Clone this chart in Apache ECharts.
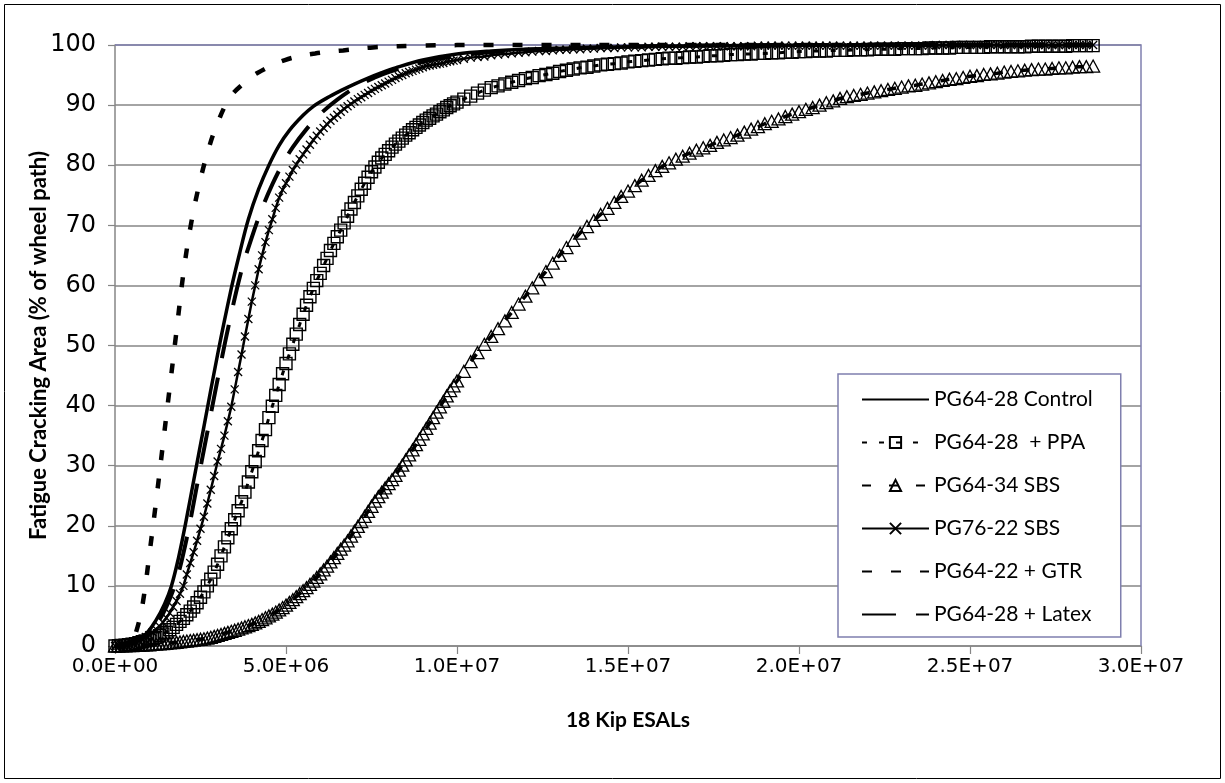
<!DOCTYPE html>
<html><head><meta charset="utf-8">
<script src="https://cdn.jsdelivr.net/npm/echarts@6/dist/echarts.min.js"></script>
<style>html,body{margin:0;padding:0;background:#fff}#chart{width:1225px;height:783px}</style>
</head><body><div id="chart"></div><script>
// ESALs in millions (shared by the three marker series)
const markerEsalsM = [
0.0,0.1,0.2,0.3,0.4,0.5,0.6,0.7,0.8,0.9,
1.0,1.1,1.2,1.3,1.4,1.5,1.6,1.7,1.8,1.9,
2.0,2.1,2.2,2.3,2.4,2.5,2.6,2.7,2.8,2.9,
3.0,3.1,3.2,3.3,3.4,3.5,3.6,3.7,3.8,3.9,
4.0,4.1,4.2,4.3,4.4,4.5,4.6,4.7,4.8,4.9,
5.0,5.1,5.2,5.3,5.4,5.5,5.6,5.7,5.8,5.9,
6.0,6.1,6.2,6.3,6.4,6.5,6.6,6.7,6.8,6.9,
7.0,7.1,7.2,7.3,7.4,7.5,7.6,7.7,7.8,7.9,
8.0,8.1,8.2,8.3,8.4,8.5,8.6,8.7,8.8,8.9,
9.0,9.1,9.2,9.3,9.4,9.5,9.6,9.7,9.8,9.9,
10.0,
10.2,10.4,10.6,10.8,11.0,11.2,11.4,11.6,11.8,12.0,
12.2,12.4,12.6,12.8,13.0,13.2,13.4,13.6,13.8,14.0,
14.2,14.4,14.6,14.8,15.0,15.2,15.4,15.6,15.8,16.0,
16.2,16.4,16.6,16.8,17.0,17.2,17.4,17.6,17.8,18.0,
18.2,18.4,18.6,18.8,19.0,19.2,19.4,19.6,19.8,20.0,
20.2,20.4,20.6,20.8,21.0,21.2,21.4,21.6,21.8,22.0,
22.2,22.4,22.6,22.8,23.0,23.2,23.4,23.6,23.8,24.0,
24.2,24.4,24.6,24.8,25.0,25.2,25.4,25.6,25.8,26.0,
26.2,26.4,26.6,26.8,27.0,27.2,27.4,27.6,27.8,28.0,
28.2,28.4,28.6];

const ppaValues = [
0,0.05,0.1,0.15,0.2,0.3,0.4,0.55,0.7,0.85,
1.0,1.2,1.4,1.7,2.0,2.3,2.7,3.1,3.6,4.1,
4.6,5.2,5.8,6.5,7.2,8.1,9.0,10.0,11.1,12.3,
13.6,15.0,16.5,18.0,19.5,21.0,22.5,24.0,25.6,27.3,
29.0,30.7,32.5,34.2,36.0,38.0,39.9,41.7,43.5,45.3,
47.0,48.6,50.2,51.9,53.5,55.2,56.7,58.1,59.5,60.8,
62.0,63.3,64.5,65.8,67.0,68.1,69.2,70.4,71.5,72.7,
73.8,74.9,76.0,77.0,78.0,78.9,79.7,80.5,81.2,81.8,
82.4,83.0,83.5,84.0,84.5,85.0,85.4,85.9,86.3,86.7,
87.1,87.5,87.8,88.2,88.5,88.9,89.2,89.6,89.9,90.2,
90.5,
91.0,91.5,92.0,92.5,92.9,93.2,93.5,93.8,94.1,94.4,
94.6,94.9,95.1,95.3,95.6,95.8,96.0,96.2,96.3,96.5,
96.7,96.8,96.9,97.0,97.2,97.3,97.4,97.5,97.6,97.7,
97.8,97.8,97.9,98.0,98.0,98.1,98.2,98.2,98.3,98.4,
98.4,98.5,98.5,98.6,98.6,98.7,98.7,98.8,98.8,98.9,
98.9,99.0,99.0,99.0,99.1,99.1,99.1,99.2,99.2,99.2,
99.3,99.3,99.3,99.3,99.4,99.4,99.4,99.4,99.5,99.5,
99.5,99.5,99.6,99.6,99.6,99.6,99.6,99.7,99.7,99.7,
99.7,99.7,99.7,99.8,99.8,99.8,99.8,99.8,99.8,99.9,
99.9,99.9,99.9];

const sbs6434Values = [
0,0,0,0.02,0.05,0.07,0.1,0.12,0.15,0.17,
0.2,0.25,0.3,0.35,0.4,0.45,0.5,0.55,0.6,0.67,
0.75,0.82,0.9,0.97,1.05,1.12,1.2,1.32,1.45,1.6,
1.75,1.92,2.1,2.27,2.45,2.62,2.8,3.0,3.2,3.4,
3.6,3.85,4.1,4.4,4.7,5.0,5.3,5.65,6.0,6.4,
6.8,7.25,7.7,8.2,8.7,9.2,9.7,10.25,10.8,11.4,
12.0,12.65,13.3,14.0,14.7,15.4,16.1,16.8,17.5,18.3,
19.1,19.9,20.7,21.55,22.4,23.25,24.1,24.85,25.6,26.3,
27.0,27.7,28.4,29.25,30.1,30.95,31.8,32.65,33.5,34.4,
35.3,36.2,37.1,38.0,38.9,39.8,40.7,41.6,42.5,43.3,
44.1,
45.7,47.3,48.8,50.2,51.5,52.8,54.1,55.5,56.9,58.2,
59.6,61.0,62.3,63.7,65.0,66.3,67.5,68.7,69.8,70.8,
71.8,72.8,73.8,74.8,75.7,76.6,77.5,78.3,79.1,79.8,
80.4,81.0,81.5,82.0,82.5,82.9,83.3,83.8,84.2,84.6,
85.0,85.5,86.0,86.4,86.9,87.3,87.7,88.1,88.5,88.9,
89.3,89.6,90.0,90.4,90.7,91.1,91.4,91.6,91.8,92.0,
92.2,92.4,92.6,92.8,93.0,93.2,93.3,93.5,93.7,93.9,
94.1,94.3,94.4,94.6,94.8,94.9,95.1,95.2,95.3,95.5,
95.6,95.7,95.8,95.9,96.0,96.0,96.1,96.2,96.2,96.3,
96.4,96.4,96.5];

const sbs7622Values = [
0,0.05,0.1,0.2,0.3,0.5,0.7,0.95,1.2,1.5,
1.8,2.3,2.8,3.3,3.9,4.7,5.5,6.5,7.5,8.7,
10.0,11.9,13.8,15.6,17.5,19.5,21.5,23.7,26.0,28.3,
30.7,32.8,35.0,37.4,39.8,42.7,45.6,48.5,51.5,54.4,
57.3,60.0,62.7,65.0,67.2,69.2,71.0,72.9,74.6,75.9,
77.0,78.1,79.2,80.1,81.0,81.8,82.6,83.4,84.2,84.9,
85.6,86.2,86.8,87.4,87.9,88.4,88.9,89.4,89.8,90.2,
90.6,91.0,91.3,91.7,92.0,92.4,92.7,93.0,93.3,93.6,
93.9,94.2,94.5,94.8,95.0,95.3,95.5,95.7,95.9,96.1,
96.3,96.5,96.6,96.7,96.8,96.9,97.0,97.2,97.3,97.4,
97.5,
97.7,97.9,98.0,98.1,98.3,98.4,98.5,98.6,98.7,98.8,
98.9,99.0,99.0,99.1,99.2,99.2,99.3,99.3,99.4,99.4,
99.5,99.5,99.5,99.6,99.6,99.6,99.6,99.7,99.7,99.7,
99.7,99.7,99.7,99.8,99.8,99.8,99.8,99.8,99.8,99.8,
99.8,99.8,99.8,99.9,99.9,99.9,99.9,99.9,99.9,99.9,
99.9,99.9,99.9,99.9,99.9,99.9,99.9,99.9,99.9,99.9,
99.9,99.9,99.9,99.9,99.9,99.9,99.9,99.9,99.9,100,
100,100,100,100,100,100,100,100,100,100,
100,100,100,100,100,100,100,100,100,100,
100,100,100];

const controlEsalsM = [0,0.5,0.9,1.2,1.45,1.65,1.85,2.05,2.3,2.6,3.0,3.4,3.65,3.9,4.2,4.5,4.8,5.1,5.5,5.8,6.2,6.6,7.0,7.4,7.8,8.2,9.0,10,11,12,14,16,18,20,28.6];
const controlValues = [0,0.8,2.0,4.3,7.0,10.0,14.5,20.0,27.5,36.5,48.5,59.5,65.5,71.0,76.0,80.0,83.3,85.8,88.3,89.8,91.2,92.4,93.5,94.5,95.4,96.2,97.5,98.5,99.0,99.3,99.6,99.8,99.9,100,100];

const gtrEsalsM = [0,0.3,0.5,0.7,0.85,1.0,1.2,1.4,1.6,1.8,2.0,2.2,2.45,2.7,2.95,3.35,3.8,4.15,4.97,5.85,6.67,7.54,9,11,28.6];
const gtrValues = [0,0,0.8,4.0,8.5,15,24,33.5,43,52.5,62,69.5,76.5,82,86.3,91.2,93.8,95.3,97.5,98.6,99.1,99.6,99.9,100,100];

const latexEsalsM = [0,0.5,0.9,1.2,1.5,1.8,2.1,2.39,2.68,2.97,3.33,3.7,4.0,4.3,4.6,4.9,5.2,5.6,6.0,6.5,7.1,7.6,8.0,9.0,10,11,12,14,17,20,28.6];
const latexValues = [0,0.6,1.6,3.5,6.5,11,18,26.5,35,43.5,53.5,62.5,68,72.8,76.8,80.2,83,86,88.5,90.9,93.2,94.6,95.5,97.2,98.2,98.8,99.2,99.6,99.9,100,100];

const seriesNames = ['PG64-28 Control','PG64-28  + PPA','PG64-34 SBS','PG76-22 SBS','PG64-22 + GTR','PG64-28 + Latex'];
const yTicks = [0,10,20,30,40,50,60,70,80,90,100];

function pairs(xs, ys){ return xs.map((x,i)=>[x*1e6, ys[i]]); }
function sci(v){
  if (v === 0) return '0.0E+00';
  const e = Math.floor(Math.log10(v) + 1e-9);
  const m = v / Math.pow(10, e);
  return m.toFixed(1) + 'E+' + String(e).padStart(2,'0');
}

const chart = echarts.init(document.getElementById('chart'), null, {renderer:'canvas'});
const gray = '#868686';
const clear = 'rgba(0,0,0,0)';
const option = {
  animation:false,
  backgroundColor:'#fff',
  graphic:[
    {type:'rect', shape:{x:4.5,y:4.5,width:1216,height:774}, style:{fill:'none', stroke:'#000', lineWidth:1}, z:0},
    {type:'polyline', shape:{points:[[115,45],[1141,45],[1141,646]]}, style:{fill:'none', stroke:'#8080b0', lineWidth:1.5}, z:1}
  ],
  grid:{left:115, right:84, top:45, bottom:137, show:false},
  xAxis:{
    type:'value', min:0, max:3e7, interval:5e6,
    name:'18 Kip ESALs', nameLocation:'middle', nameGap:64, nameMoveOverlap:false,
    nameTextStyle:{fontFamily:'Lato', fontWeight:'bold', fontSize:21, color:'#000'},
    axisLine:{show:true, lineStyle:{color:gray, width:1.5}},
    axisTick:{show:true, length:8, lineStyle:{color:gray, width:1.2}},
    axisLabel:{margin:11, formatter:sci, fontFamily:'DejaVu Sans', fontSize:20, color:'#000'},
    splitLine:{show:false}
  },
  yAxis:{
    type:'value', min:yTicks[0], max:yTicks[yTicks.length-1], interval:10,
    name:'Fatigue Cracking Area (% of wheel path)', nameLocation:'middle', nameGap:65, nameRotate:90, nameMoveOverlap:false,
    nameTextStyle:{fontFamily:'Lato', fontWeight:'bold', fontSize:22, color:'#000'},
    axisLine:{show:true, lineStyle:{color:gray, width:1.5}},
    axisTick:{show:true, length:7, lineStyle:{color:gray, width:1.2}},
    axisLabel:{margin:19, fontFamily:'DejaVu Sans', fontSize:24, color:'#000'},
    splitLine:{show:true, lineStyle:{color:gray, width:1.5}}
  },
  legend:{
    orient:'vertical', left:838, top:374,
    padding:[15,28,12,23],
    backgroundColor:'#fff', borderColor:'#7f7fae', borderWidth:1.5, borderRadius:0,
    itemWidth:67, itemHeight:14, itemGap:22,
    textStyle:{fontFamily:'Lato', fontSize:21, color:'#000', lineHeight:20},
    data:seriesNames
  },
  series:[
    {name:seriesNames[0], type:'line', data:pairs(controlEsalsM, controlValues), symbol:'none',
     smooth:0.35, lineStyle:{color:'#000', width:3.5, type:'solid'}, itemStyle:{color:clear}},
    {name:seriesNames[1], type:'line', data:pairs(markerEsalsM, ppaValues), symbol:'rect', symbolSize:12,
     lineStyle:{color:'#000', width:3, type:[5,12]},
     itemStyle:{color:clear, borderColor:'#000', borderWidth:1.4}},
    {name:seriesNames[2], type:'line', data:pairs(markerEsalsM, sbs6434Values), symbol:'triangle', symbolSize:[13,12],
     lineStyle:{color:'#000', width:3.5, type:[9,18]},
     itemStyle:{color:clear, borderColor:'#000', borderWidth:1.3}},
    {name:seriesNames[3], type:'line', data:pairs(markerEsalsM, sbs7622Values), symbol:'path://M0,0L10,10M10,0L0,10', symbolSize:8,
     lineStyle:{color:'#000', width:2.5, type:'solid'},
     itemStyle:{color:clear, borderColor:'#000', borderWidth:1.3}},
    {name:seriesNames[4], type:'line', data:pairs(gtrEsalsM, gtrValues), symbol:'none',
     smooth:0.35, clip:false, lineStyle:{color:'#000', width:4.5, type:[10,19]}, itemStyle:{color:clear}},
    {name:seriesNames[5], type:'line', data:pairs(latexEsalsM, latexValues), symbol:'none',
     smooth:0.35, lineStyle:{color:'#000', width:4, type:[34,20]}, itemStyle:{color:clear}}
  ]
};
chart.setOption(option);
</script></body></html>
